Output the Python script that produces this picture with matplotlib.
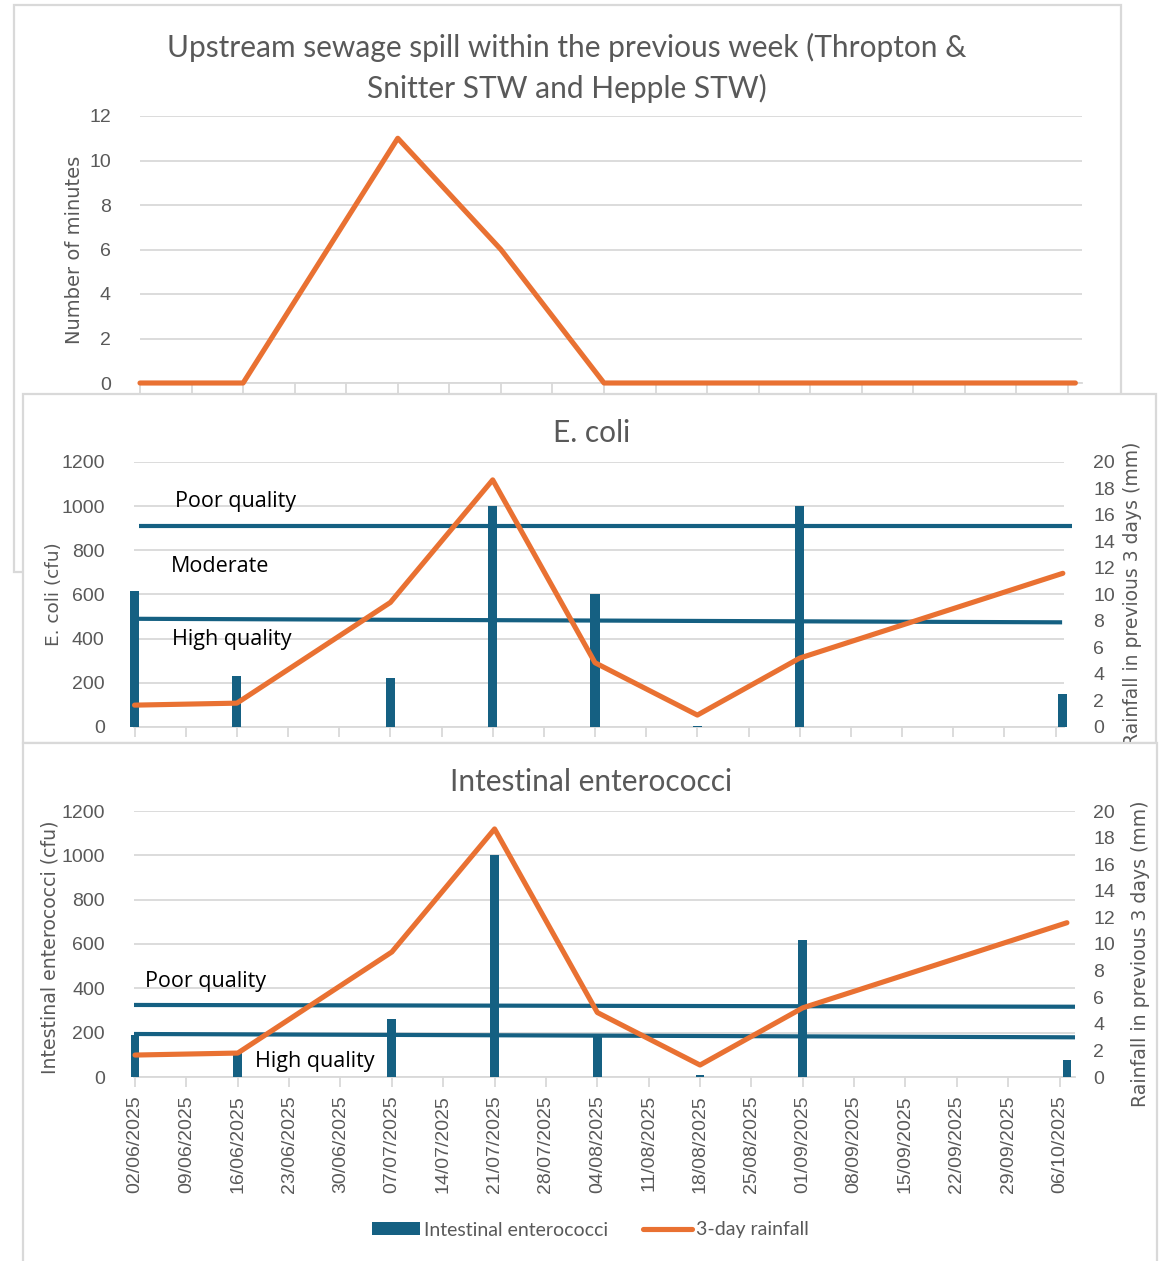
import matplotlib
matplotlib.use("Agg")
import matplotlib.pyplot as plt
from matplotlib.patches import Rectangle, Patch
from matplotlib.lines import Line2D
import pandas as pd

# ---------------------------------------------------------------- data
week_labels = ["02/06/2025", "09/06/2025", "16/06/2025", "23/06/2025", "30/06/2025",
               "07/07/2025", "14/07/2025", "21/07/2025", "28/07/2025", "04/08/2025",
               "11/08/2025", "18/08/2025", "25/08/2025", "01/09/2025", "08/09/2025",
               "15/09/2025", "22/09/2025", "29/09/2025", "06/10/2025"]
sample_dates = ["02/06/2025", "16/06/2025", "07/07/2025", "21/07/2025",
                "04/08/2025", "18/08/2025", "01/09/2025", "07/10/2025"]

spill_minutes = [0, 0, 11, 6, 0, 0, 0, 0]
ecoli_cfu = [615, 230, 220, 1000, 600, 5, 1000, 150]
entero_cfu = [190, 110, 260, 1000, 190, 8, 620, 75]
rainfall_mm = [1.65, 1.8, 9.4, 18.65, 4.85, 0.9, 5.2, 11.6]

# classification boundaries (value at start, value at end of the period)
ecoli_poor = [910, 910]
ecoli_high = [490, 474]
entero_poor = [325, 317]
entero_high = [194, 179]

# ---------------------------------------------------------------- helpers
start = pd.to_datetime(week_labels[0], dayfirst=True)
week_day = [(pd.to_datetime(d, dayfirst=True) - start).days for d in week_labels]
sample_day = [(pd.to_datetime(d, dayfirst=True) - start).days for d in sample_dates]

W, H = 1162, 1261
BLUE = "#156082"
ORANGE = "#E97132"
GRID = "#D9D9D9"
TXT = "#595959"

fig = plt.figure(figsize=(W / 100, H / 100), dpi=100)
fig.patch.set_facecolor("white")


def panel(x0, y0, x1, y1, z):
    fig.add_artist(Rectangle((x0 / W, 1 - y1 / H), (x1 - x0) / W, (y1 - y0) / H,
                             transform=fig.transFigure, facecolor="white",
                             edgecolor=GRID, lw=1.6, zorder=z))


def axes_px(left, top, right, bottom, z):
    ax = fig.add_axes([left / W, 1 - bottom / H, (right - left) / W, (bottom - top) / H])
    ax.set_zorder(z)
    ax.patch.set_visible(False)
    return ax


def style(ax, ypad):
    for s in ("left", "right", "top"):
        ax.spines[s].set_visible(False)
    ax.spines["bottom"].set_color(GRID)
    ax.spines["bottom"].set_linewidth(1.3)
    ax.spines["bottom"].set_zorder(0.5)
    ax.grid(axis="y", color=GRID, lw=1.3)
    ax.set_axisbelow(True)
    ax.tick_params(axis="y", length=0, pad=ypad, labelcolor=TXT, labelsize=14)
    for t in ax.get_yticklabels():
        t.set_fontfamily("Liberation Sans")
    ax.set_xticks(week_day)
    ax.tick_params(axis="x", length=7, width=1.3, color=GRID, direction="out",
                   labelcolor=TXT, labelsize=14)


def style_twin(tx, pad):
    for s in tx.spines.values():
        s.set_visible(False)
    tx.set_ylim(0, 20)
    tx.set_yticks(range(0, 21, 2))
    tx.tick_params(axis="y", length=0, pad=pad, labelcolor=TXT, labelsize=14)
    for t in tx.get_yticklabels():
        t.set_fontfamily("Liberation Sans")
    tx.patch.set_visible(False)


def vlabel(x, y, s, z, size=13):
    fig.text(x / W, 1 - y / H, s, rotation=90, ha="center", va="center",
             color=TXT, fontsize=size, family="DejaVu Sans", zorder=z)


def title(x, y, s, z):
    fig.text(x / W, 1 - y / H, s, ha="center", va="center", color=TXT,
             fontsize=21.5, family="Lato", zorder=z)


line_kw = dict(color=ORANGE, lw=3.7, solid_joinstyle="round",
               solid_capstyle="round", clip_on=False, zorder=4)
band_kw = dict(color=BLUE, lw=3.0, solid_capstyle="butt", clip_on=False, zorder=3)
note_kw = dict(color="black", fontsize=15.5, family="Open Sans", va="center", ha="left")

# ---------------------------------------------------------------- panel 1: spills
panel(14, 5, 1121, 572, 1)
ax1 = axes_px(140, 116, 1082, 383, 2)
ax1.plot(sample_day, spill_minutes, **line_kw)
ax1.set_ylim(0, 12)
ax1.set_yticks(range(0, 13, 2))
ax1.set_xlim(0, 127.9)
style(ax1, 21)
ax1.set_xticklabels([])
title(567, 47, "Upstream sewage spill within the previous week (Thropton &", 2.5)
title(567, 88, "Snitter STW and Hepple STW)", 2.5)
vlabel(75, 250, "Number of minutes", 2.5, 14)

# ---------------------------------------------------------------- panel 2: E. coli
panel(23, 394, 1156, 743, 3)
ax2 = axes_px(133.8, 462, 1064.3, 727, 4)
ax2.set_xlim(-0.1, 127.2)
ax2.set_ylim(0, 1200)
ax2.set_yticks(range(0, 1201, 200))
ax2.bar(sample_day, ecoli_cfu, width=1.25, color=BLUE, clip_on=False, zorder=2)
ax2.plot([0.6, 128.2], ecoli_poor, **band_kw)
ax2.plot([0.0, 126.9], ecoli_high, **band_kw)
ax2.text(5.5, 1023, "Poor quality", **note_kw)
ax2.text(5.0, 725, "Moderate", **note_kw)
ax2.text(5.1, 394, "High quality", **note_kw)
style(ax2, 21)
ax2.set_xticklabels([])
tx2 = ax2.twinx()
tx2.set_zorder(4.1)
tx2.plot(sample_day, rainfall_mm, **line_kw)
style_twin(tx2, 21)
title(592, 433, "E. coli", 4.5)
vlabel(54, 594, "E. coli (cfu)", 4.5, 13.3)
vlabel(1133, 594, "Rainfall in previous 3 days (mm)", 4.5, 13.5)

# ---------------------------------------------------------------- panel 3: enterococci
panel(23, 743, 1157, 1290, 5)
ax3 = axes_px(134, 811, 1075, 1077, 6)
ax3.set_xlim(-0.14, 128.1)
ax3.set_ylim(0, 1200)
ax3.set_yticks(range(0, 1201, 200))
ax3.bar(sample_day, entero_cfu, width=1.2, color=BLUE, clip_on=False, zorder=2)
x_lo, x_hi = ax3.get_xlim()
ax3.plot([x_lo, x_hi], entero_poor, **band_kw)
ax3.plot([x_lo, x_hi], entero_high, **band_kw)
ax3.text(1.4, 433, "Poor quality", **note_kw)
ax3.text(16.3, 68, "High quality", **note_kw)
style(ax3, 21)
ax3.set_xticklabels(week_labels, rotation=90, family="Liberation Sans")
ax3.tick_params(axis="x", pad=6)
tx3 = ax3.twinx()
tx3.set_zorder(6.1)
tx3.plot(sample_day, rainfall_mm, **line_kw)
style_twin(tx3, 13)
title(591, 782, "Intestinal enterococci", 6.5)
vlabel(50, 947, "Intestinal enterococci (cfu)", 6.5, 13.6)
vlabel(1140, 954, "Rainfall in previous 3 days (mm)", 6.5, 13.6)

handles = [Patch(facecolor=BLUE, edgecolor="none"),
           Line2D([], [], color=ORANGE, lw=3.7, solid_capstyle="round")]
leg = tx3.legend(handles, ["Intestinal enterococci", "3-day rainfall"],
                 loc="center", bbox_to_anchor=(590 / W, 1 - 1230 / H),
                 bbox_transform=fig.transFigure, ncol=2, frameon=False,
                 handlelength=2.5, handleheight=0.6, handletextpad=0.2,
                 columnspacing=1.8, prop={"family": "Lato", "size": 14})
for t in leg.get_texts():
    t.set_color(TXT)

fig.savefig("out.png", dpi=100)
